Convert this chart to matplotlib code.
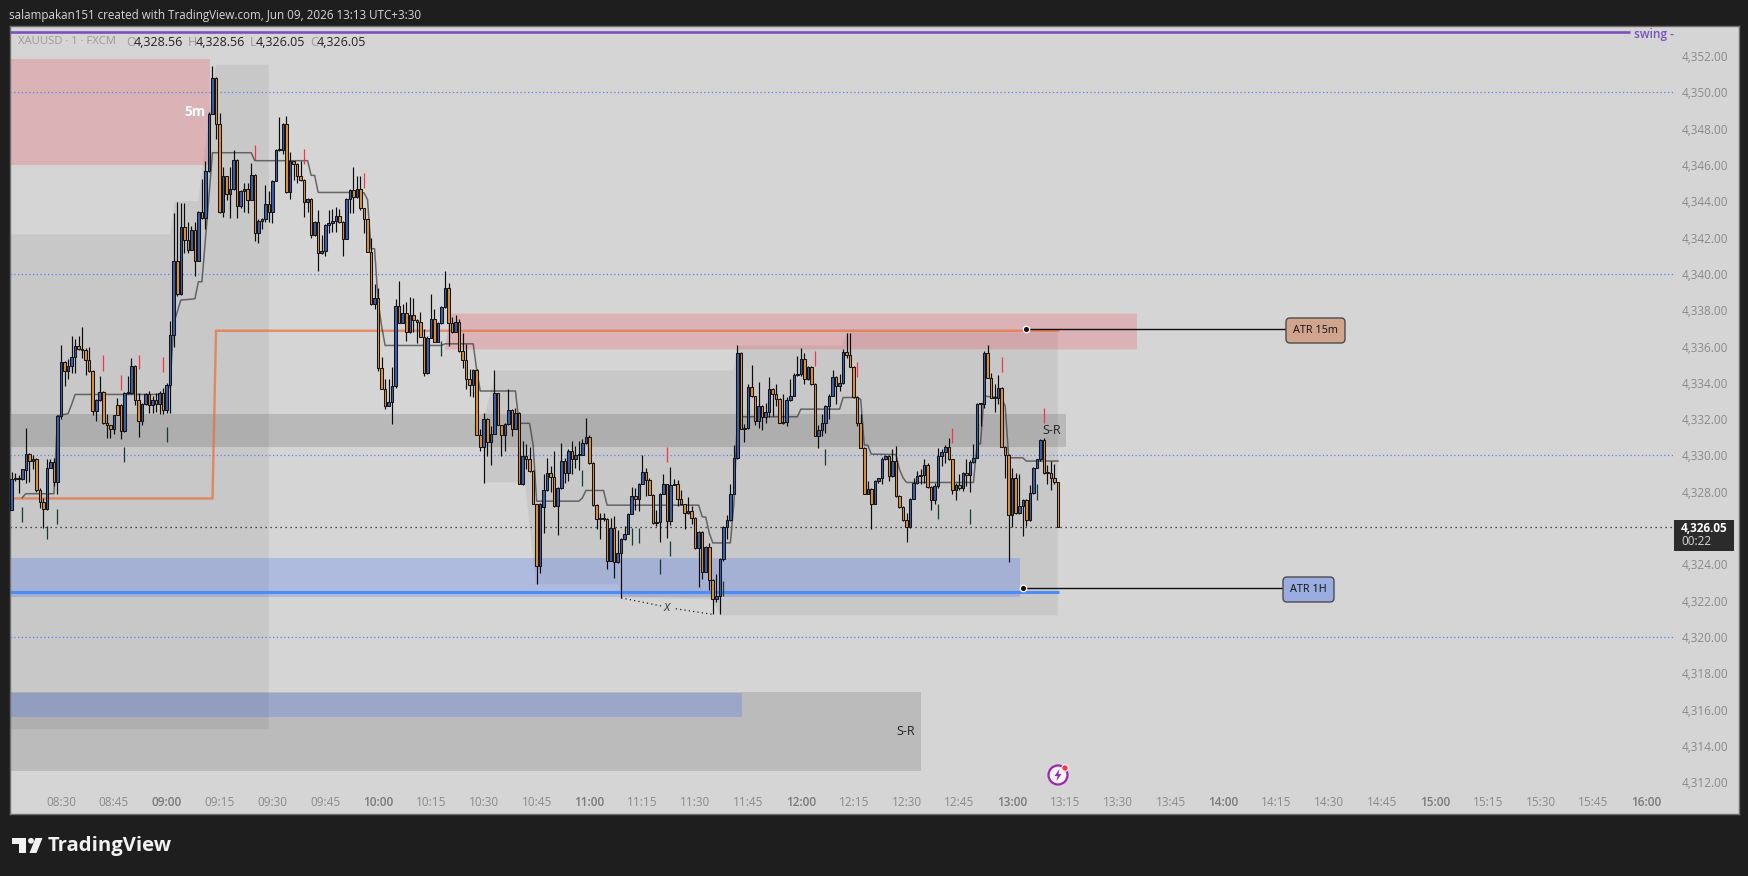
import numpy as np
import matplotlib
matplotlib.use("Agg")
import matplotlib.pyplot as plt
from matplotlib.patches import FancyBboxPatch, Rectangle, Circle, Polygon

plt.rcParams['font.family'] = ['Open Sans', 'DejaVu Sans']

# ---- data: minutes after 08:30, prices -------------------------------
opens = [
4327.00,4328.71,4328.70,4328.71,4329.19,4330.09,4329.69,4329.80,4328.10,4327.45,
4327.04,4329.32,4329.65,4328.53,4332.18,4335.16,4334.64,4334.92,4335.43,4336.04,
4335.87,4335.80,4335.27,4334.64,4332.44,4333.07,4333.50,4331.80,4331.67,4331.45,
4332.79,4332.79,4331.34,4333.45,4333.45,4334.94,4333.05,4331.89,4332.86,4333.40,
4332.77,4333.07,4332.86,4333.45,4332.53,4333.90,4336.61,4340.73,4338.87,4342.60,
4341.88,4341.33,4342.43,4340.73,4343.43,4343.10,4345.69,4348.83,4350.81,4348.28,
4343.41,4345.37,4344.42,4344.66,4346.30,4343.76,4344.58,4344.69,4344.09,4345.46,
4342.27,4342.93,4343.04,4343.87,4343.41,4345.13,4346.84,4346.84,4348.24,4344.51,
4346.20,4346.05,4345.41,4345.19,4343.98,4344.14,4342.14,4342.88,4341.17,4341.28,
4342.71,4342.82,4342.93,4343.17,4342.88,4341.94,4344.14,4344.64,4344.24,4344.69,
4343.61,4343.02,4341.22,4338.36,4338.69,4334.81,4333.68,4332.72,4332.94,4333.84,
4338.25,4337.31,4337.84,4336.82,4337.75,4337.46,4337.35,4336.52,4334.54,4336.49,
4337.53,4336.27,4337.31,4338.19,4339.24,4337.31,4336.82,4337.35,4335.75,4335.25,
4334.23,4333.88,4334.72,4331.12,4330.46,4332.02,4330.76,4331.20,4333.42,4331.67,
4331.14,4331.75,4332.52,4331.47,4332.35,4328.44,4329.98,4329.82,4329.14,4327.33,
4323.90,4327.17,4328.10,4329.04,4328.80,4327.20,4328.21,4329.68,4329.04,4330.25,
4329.78,4330.03,4330.03,4330.69,4331.02,4329.59,4327.26,4326.50,4326.50,4326.50,
4324.21,4326.01,4324.14,4324.63,4325.40,4325.68,4326.78,4327.79,4327.61,4328.43,
4329.10,4328.66,4327.83,4326.29,4326.34,4327.88,4328.43,4326.38,4328.38,4328.45,
4327.61,4327.31,4326.84,4326.95,4326.56,4324.91,4325.79,4323.59,4324.96,4323.13,
4322.10,4322.28,4324.27,4326.07,4326.45,4327.89,4329.87,4335.65,4331.47,4331.52,
4333.78,4333.27,4331.89,4332.73,4332.13,4332.39,4333.67,4333.40,4333.12,4331.80,
4331.85,4333.07,4333.29,4334.42,4334.46,4335.32,4334.19,4334.88,4333.95,4331.08,
4331.41,4331.80,4332.72,4333.29,4334.33,4333.82,4334.00,4335.71,4335.54,4334.88,
4333.23,4331.80,4330.42,4327.89,4328.16,4327.33,4328.60,4328.73,4329.78,4329.98,
4328.86,4329.72,4327.76,4327.15,4326.43,4326.05,4327.61,4328.49,4328.86,4328.90,
4329.50,4328.27,4327.54,4328.31,4329.96,4330.20,4330.47,4329.78,4328.12,4328.36,
4328.22,4329.04,4328.93,4329.65,4329.87,4332.84,4332.84,4335.62,4334.28,4333.17,
4333.17,4333.73,4330.48,4330.03,4326.73,4328.77,4326.84,4327.24,4327.55,4326.43,
4327.94,4329.32,4329.78,4330.84,4329.04,4329.04,4328.77,4328.56]
closes = [
4328.71,4328.70,4328.71,4329.23,4330.09,4329.69,4329.80,4328.09,4327.45,4327.04,
4329.32,4329.65,4328.53,4332.18,4335.16,4334.64,4334.94,4335.43,4336.04,4335.87,
4335.80,4335.27,4334.64,4332.44,4333.07,4333.50,4331.80,4331.67,4331.45,4332.22,
4332.22,4331.34,4333.45,4333.45,4334.94,4333.05,4331.89,4332.86,4333.40,4332.77,
4333.07,4332.86,4333.45,4332.53,4333.90,4336.61,4340.73,4338.87,4342.60,4341.88,
4341.33,4342.43,4340.73,4343.43,4343.10,4345.69,4348.83,4350.81,4348.28,4343.41,
4345.37,4344.42,4344.66,4346.30,4343.76,4344.58,4344.69,4344.09,4345.46,4342.27,
4342.93,4343.04,4343.87,4343.41,4345.13,4346.84,4346.84,4348.24,4344.51,4346.20,
4346.05,4345.41,4345.19,4343.98,4344.14,4342.14,4342.88,4341.17,4341.28,4342.71,
4342.82,4342.93,4343.17,4342.88,4341.94,4344.14,4344.64,4344.24,4344.69,4343.61,
4343.02,4341.22,4338.36,4338.69,4334.81,4333.68,4332.72,4332.94,4333.84,4338.25,
4337.31,4337.84,4336.82,4337.75,4337.46,4337.35,4336.52,4334.54,4336.49,4337.53,
4336.27,4337.31,4338.19,4339.24,4337.31,4336.82,4337.35,4335.75,4335.25,4334.23,
4333.88,4334.72,4331.12,4330.46,4332.02,4330.76,4331.20,4333.42,4331.67,4331.14,
4331.75,4332.52,4331.47,4332.35,4328.44,4329.98,4329.82,4329.14,4327.33,4323.90,
4327.33,4328.10,4329.04,4328.80,4327.20,4328.21,4329.68,4329.04,4330.25,4329.78,
4330.03,4330.03,4330.69,4331.02,4329.59,4327.26,4326.50,4326.50,4326.50,4324.21,
4326.01,4324.14,4324.63,4325.40,4325.68,4326.78,4327.79,4327.61,4328.43,4329.10,
4328.66,4327.83,4326.29,4326.34,4327.88,4328.43,4326.38,4328.38,4328.45,4327.61,
4327.31,4326.84,4326.95,4326.56,4324.91,4325.79,4323.59,4324.96,4323.13,4322.10,
4322.28,4324.27,4326.07,4326.45,4327.89,4329.87,4335.65,4331.47,4331.52,4333.78,
4333.27,4331.89,4332.73,4332.13,4332.39,4333.67,4333.40,4333.12,4331.80,4331.85,
4333.07,4333.29,4334.42,4334.46,4335.32,4334.19,4334.88,4333.95,4331.08,4331.41,
4331.80,4332.72,4333.29,4334.33,4333.82,4334.00,4335.71,4335.54,4334.88,4333.23,
4331.80,4330.42,4327.89,4328.16,4327.33,4328.60,4328.73,4329.78,4329.98,4328.86,
4329.72,4327.76,4327.15,4326.43,4326.05,4327.61,4328.49,4328.86,4328.90,4329.50,
4328.27,4327.54,4328.31,4329.96,4330.20,4330.47,4329.78,4328.12,4328.36,4328.22,
4329.04,4328.93,4329.65,4329.87,4332.84,4332.84,4335.62,4334.28,4333.17,4333.17,
4333.73,4330.48,4330.03,4326.73,4328.77,4326.84,4327.24,4327.55,4326.43,4327.94,
4329.32,4329.78,4330.84,4329.04,4329.04,4328.77,4328.53,4326.05]
highs = [
4329.08,4329.04,4328.90,4329.25,4331.50,4330.15,4330.00,4329.87,4328.20,4327.66,
4329.80,4329.78,4329.87,4332.20,4336.08,4335.20,4335.30,4336.60,4336.39,4336.60,
4337.05,4335.90,4336.00,4334.70,4333.10,4334.37,4333.55,4332.30,4331.70,4332.25,
4333.14,4332.85,4333.50,4334.37,4335.38,4335.00,4333.45,4332.90,4333.45,4333.54,
4333.27,4333.45,4333.55,4333.70,4333.97,4337.40,4343.37,4343.96,4343.92,4343.92,
4342.88,4342.64,4342.88,4343.45,4345.25,4346.22,4348.90,4351.45,4350.85,4348.88,
4345.90,4345.41,4345.90,4346.82,4346.35,4344.60,4345.00,4345.00,4346.13,4345.50,
4343.00,4343.10,4344.91,4344.56,4345.15,4346.88,4348.66,4348.30,4348.73,4346.73,
4346.25,4346.10,4346.22,4345.22,4344.20,4344.18,4342.90,4343.52,4342.14,4342.75,
4343.52,4343.56,4343.68,4343.56,4342.90,4344.18,4344.68,4345.90,4345.39,4345.39,
4343.65,4343.05,4342.00,4339.42,4339.24,4335.44,4334.19,4334.19,4334.89,4338.60,
4339.63,4338.32,4338.45,4338.74,4338.69,4337.50,4337.92,4336.94,4336.58,4338.91,
4338.08,4337.35,4338.22,4340.18,4339.52,4337.64,4337.74,4337.50,4336.72,4336.12,
4334.74,4334.76,4334.76,4331.44,4332.35,4332.05,4331.62,4334.69,4333.45,4331.70,
4331.78,4333.64,4332.55,4332.63,4332.40,4330.79,4330.61,4330.48,4329.20,4327.35,
4327.40,4329.00,4329.87,4329.41,4330.23,4328.25,4330.69,4329.87,4330.33,4330.79,
4330.51,4330.82,4330.88,4332.07,4331.15,4329.62,4327.30,4326.84,4326.84,4326.55,
4326.56,4326.65,4325.90,4325.44,4326.10,4326.82,4328.27,4328.21,4328.47,4330.05,
4329.32,4328.77,4327.87,4327.02,4327.92,4328.95,4328.45,4329.37,4328.71,4328.67,
4328.12,4327.35,4327.72,4327.20,4326.60,4325.83,4325.83,4325.00,4325.18,4323.17,
4323.48,4324.35,4326.10,4326.71,4328.40,4330.60,4336.06,4335.70,4331.74,4333.91,
4334.96,4333.30,4334.07,4332.80,4332.90,4334.31,4333.70,4333.91,4333.15,4333.36,
4333.20,4334.22,4334.55,4335.47,4335.93,4335.65,4334.92,4334.92,4334.00,4331.70,
4332.26,4332.76,4333.36,4334.70,4334.37,4334.46,4335.84,4336.72,4336.72,4334.92,
4333.27,4332.26,4330.45,4328.58,4328.20,4328.65,4328.78,4329.92,4330.00,4330.00,
4330.38,4330.51,4327.80,4327.20,4326.84,4327.65,4328.77,4329.13,4329.23,4329.78,
4329.60,4328.30,4328.49,4330.42,4330.33,4330.60,4330.97,4329.80,4328.49,4328.95,
4329.08,4329.78,4329.74,4330.64,4332.88,4332.90,4335.75,4336.11,4334.55,4333.91,
4334.42,4333.77,4330.50,4330.07,4329.32,4329.04,4328.99,4327.60,4327.60,4328.36,
4329.36,4329.82,4330.88,4330.95,4329.50,4329.70,4329.54,4328.56]
lows = [
4327.00,4328.58,4327.94,4328.65,4328.50,4328.53,4329.26,4328.00,4327.12,4326.00,
4327.00,4329.30,4328.30,4327.90,4332.00,4333.82,4334.20,4334.55,4334.55,4335.80,
4335.38,4334.45,4334.60,4332.20,4331.89,4333.00,4331.75,4330.97,4330.97,4331.20,
4332.20,4330.88,4331.30,4333.40,4333.40,4332.80,4331.03,4331.70,4332.80,4332.35,
4332.35,4332.40,4332.30,4332.26,4332.35,4332.35,4336.00,4338.78,4338.85,4341.17,
4341.17,4341.30,4339.88,4340.70,4343.00,4342.45,4345.60,4348.80,4347.42,4343.35,
4343.13,4344.10,4343.10,4344.60,4343.10,4343.65,4343.40,4343.37,4344.05,4341.80,
4341.72,4342.45,4342.88,4342.88,4342.82,4345.10,4346.80,4346.59,4344.45,4344.14,
4345.20,4344.99,4345.10,4343.13,4343.41,4342.00,4342.10,4340.16,4341.08,4340.98,
4342.27,4342.30,4342.30,4342.80,4340.98,4341.90,4343.37,4343.37,4344.20,4343.55,
4342.23,4341.20,4338.30,4338.05,4334.65,4333.65,4332.57,4332.70,4331.71,4333.73,
4337.28,4337.27,4336.30,4336.76,4336.82,4336.20,4336.50,4334.37,4334.50,4336.45,
4336.25,4336.25,4337.22,4338.15,4336.03,4336.76,4336.80,4335.70,4334.83,4333.64,
4333.27,4333.23,4331.10,4330.24,4328.50,4329.97,4329.50,4331.20,4331.65,4329.97,
4330.24,4331.70,4331.07,4331.45,4328.40,4328.35,4329.23,4329.10,4327.30,4322.89,
4323.50,4325.73,4328.05,4328.00,4327.15,4325.64,4328.15,4328.49,4328.58,4328.95,
4329.32,4329.17,4330.00,4330.65,4329.55,4327.20,4325.92,4325.37,4326.38,4323.75,
4324.18,4323.26,4324.10,4322.15,4325.35,4325.65,4326.75,4327.02,4326.93,4328.40,
4327.75,4327.80,4326.20,4326.10,4325.22,4327.85,4325.46,4326.14,4328.35,4327.20,
4327.25,4325.92,4326.80,4326.20,4324.85,4322.76,4323.20,4323.55,4322.61,4321.24,
4321.90,4321.24,4324.20,4325.37,4326.40,4327.85,4329.80,4331.45,4330.73,4331.45,
4333.20,4331.70,4331.52,4331.39,4331.80,4332.13,4332.16,4332.72,4331.76,4331.75,
4331.61,4333.00,4333.25,4334.40,4334.40,4333.91,4334.15,4333.90,4331.05,4330.40,
4331.06,4331.25,4332.00,4333.25,4332.81,4333.54,4333.95,4335.38,4334.85,4333.17,
4331.61,4330.40,4327.85,4327.85,4325.96,4327.30,4328.50,4328.45,4329.75,4328.58,
4328.80,4327.70,4327.10,4326.40,4325.22,4326.00,4327.58,4328.45,4328.40,4328.50,
4328.20,4326.97,4327.30,4328.20,4329.41,4329.60,4329.75,4327.85,4327.57,4328.12,
4328.03,4328.31,4327.98,4329.60,4329.85,4331.61,4332.60,4334.25,4333.15,4332.39,
4332.86,4330.45,4328.77,4324.12,4326.07,4326.80,4326.80,4325.55,4326.10,4326.40,
4327.90,4329.30,4329.70,4329.00,4328.40,4328.12,4328.40,4326.05]
minutes = np.arange(-14, 284)

# grey step indicator
step_m = [-11,-10,-2,-1,2,3,4,30,31,32,34,38,39,40,43,54,55,70,71,72,73,85,86,87,88,89,90,91,92,108,109,117,118,119,129,130,133,134,135,147,148,149,154,155,181,182,183,184,185,190,191,192,209,210,221,222,226,227,228,229,230,237,238,239,240,259,260,261,262,267,268,269,273,274,283]
step_p = [4327.67,4327.89,4327.89,4332.18,4332.30,4332.80,4333.36,4333.36,4334.00,4337.27,4338.56,4338.63,4339.57,4339.57,4346.68,4346.68,4346.24,4346.24,4345.43,4345.43,4344.49,4344.49,4344.47,4344.10,4341.39,4341.39,4338.50,4337.13,4336.06,4336.06,4336.15,4336.15,4334.70,4333.55,4333.55,4331.77,4331.77,4330.60,4327.48,4327.48,4327.66,4328.07,4328.07,4327.26,4327.26,4326.62,4326.60,4325.73,4325.18,4325.18,4327.39,4332.13,4332.13,4332.55,4332.55,4333.19,4333.19,4333.08,4330.57,4330.57,4330.07,4330.05,4329.23,4328.77,4328.51,4328.51,4330.64,4330.64,4333.27,4333.17,4332.72,4329.87,4329.87,4329.69,4329.69]

# ATR lines
atr15_m = [43, 44, 283]
atr15_p = [4327.63, 4336.87, 4336.87]
atr15_head_p = 4327.63
atr1h_p = 4322.50

# signal ticks: minute, top, bottom
red_m   = [12,17,22,29,55,69,86,172,214,226,253,267,279]
red_top = [4335.51,4334.44,4335.56,4335.43,4347.12,4346.90,4345.58,4330.47,4335.75,4335.16,4331.52,4335.42,4332.62]
red_bot = [4334.64,4333.58,4334.74,4334.59,4346.27,4346.07,4344.75,4329.63,4334.92,4334.31,4330.66,4334.59,4331.80]
grn_m   = [-11,-1,-4,18,30,108,148,162,164,170,173,188,217,249,258,277]
grn_top = [4327.17,4327.06,4326.10,4330.48,4331.58,4336.30,4329.17,4326.01,4326.01,4324.32,4325.29,4323.07,4330.33,4327.33,4327.06,4328.40]
grn_bot = [4326.32,4326.21,4325.37,4329.63,4330.73,4335.47,4328.30,4325.07,4325.18,4323.46,4324.45,4322.28,4329.47,4326.47,4326.21,4327.54]

# zones (minutes, price)
XL, XR = -14.48, 476.3
YB, YT = 4310.22, 4353.64
col_m = [XL, 31, 32.3, 38.9, 44, 59, 59, XL]
col_p = [4342.18,4342.18,4344.01,4344.01,4351.54,4351.54,4314.92,4314.92]
area_m = [120.35,123.5,190.75,192.2,221.7,223.1,282.9,282.9,187.1,184.8,159.2,158.1,134.8,131.7,120.35]
area_p = [4332.26,4334.68,4334.68,4336.06,4336.06,4336.78,4336.78,4321.18,4321.18,4322.07,4322.18,4322.89,4322.89,4328.51,4328.51]

hlevels = [4350, 4340, 4330, 4320]
last_price = 4326.05
yticks = list(range(4312, 4354, 2))
xtick_labels = ['08:30','08:45','09:00','09:15','09:30','09:45','10:00','10:15','10:30','10:45','11:00','11:15','11:30','11:45','12:00','12:15','12:30','12:45','13:00','13:15','13:30','13:45','14:00','14:15','14:30','14:45','15:00','15:15','15:30','15:45','16:00']
xticks = [15*i for i in range(len(xtick_labels))]

# ---- figure ----------------------------------------------------------
W, H = 1749, 876
DARK = '#1e1e1e'
fig = plt.figure(figsize=(W/100, H/100), dpi=100, facecolor=DARK)
L, R, T, B = 10, 1739, 26.4, 814.4
ax = fig.add_axes([L/W, 1-B/H, (R-L)/W, (B-T)/H], facecolor='#d5d5d5')
ax.set_xlim(XL, XR)
ax.set_ylim(YB, YT)
for s in ax.spines.values():
    s.set_color('#6e6e6e'); s.set_linewidth(1.0)

# zones
ax.fill(col_m, col_p, color='black', alpha=0.06, lw=0, zorder=1)
ax.fill(area_m, area_p, color='black', alpha=0.06, lw=0, zorder=1)
ax.fill([XL,285.3,285.3,XL],[4332.26,4332.26,4330.46,4330.46], color='black', alpha=0.13, lw=0, zorder=1)
ax.fill([XL,244.1,244.1,XL],[4316.94,4316.94,4312.61,4312.61], color='black', alpha=0.12, lw=0, zorder=1)
ax.fill([XL,193.3,193.3,XL],[4316.89,4316.89,4315.58,4315.58], color='#2962ff', alpha=0.22, lw=0, zorder=1.2)
ax.fill([XL,272.2,272.2,XL],[4324.33,4324.33,4322.19,4322.19], color='#2962ff', alpha=0.22, lw=0, zorder=1.2)
ax.fill([XL,42.3,42.3,XL],[4351.87,4351.87,4345.98,4345.98], color='#f23645', alpha=0.22, lw=0, zorder=1.2)
ax.fill([109,110.5,305.4,305.4],[4335.84,4337.82,4337.82,4335.84], color='#f23645', alpha=0.22, lw=0, zorder=1.2)

# levels
for lv in hlevels:
    ax.plot([XL, 457.6], [lv, lv], color='#5f7ff0', lw=0.9, ls=(0, (1, 2)), zorder=1.5)
ax.plot([XL, 457.6], [last_price, last_price], color='#1a1a1a', lw=0.9, ls=(0, (1, 3)), zorder=1.5)
ax.plot([XL, 445.4], [4353.32, 4353.32], color='#7a52bd', lw=1.9, zorder=3, solid_capstyle='butt')
ax.text(446.6, 4353.2, 'swing -', color='#7a52bd', fontsize=8.6, fontweight='semibold', va='center', ha='left', zorder=3)

# ATR lines
ax.plot([XL]+atr15_m, [atr15_head_p]+atr15_p, color='#e8703a', alpha=0.72, lw=1.7, zorder=2, solid_joinstyle='miter')
ax.plot([XL, 283.2], [atr1h_p, atr1h_p], color='#4d8bf5', lw=2.2, zorder=2, solid_capstyle='butt')
ax.plot(step_m, step_p, color='#3c3c3c', alpha=0.72, lw=1.1, zorder=4)

# candles
o, h, l, c = map(np.array, (opens, highs, lows, closes))
up = c >= o
ax.vlines(minutes, l, h, color='#0a0a0a', lw=0.85, zorder=5)
ax.bar(minutes, np.maximum(np.abs(c-o), 0.03), bottom=np.minimum(o, c), width=0.72,
       color=np.where(up, '#3a5fae', '#e0902f'), edgecolor='#141414', linewidth=0.75, zorder=6)

# signal ticks
ax.vlines(red_m, red_bot, red_top, color='#f23645', lw=0.9, zorder=7)
ax.vlines(grn_m, grn_bot, grn_top, color='#0d3d34', lw=0.9, zorder=7)

# x swing annotation
ax.plot([159, 170.5], [4322.15, 4321.70], color='#222222', lw=0.9, ls=(0, (1, 2.5)), zorder=3)
ax.plot([174.5, 185], [4321.55, 4321.24], color='#222222', lw=0.9, ls=(0, (1, 2.5)), zorder=3)
ax.text(172.0, 4321.62, 'x', color='#444444', fontsize=10, style='italic', ha='center', va='center', zorder=3)

# connectors
ax.plot([274, 347.7], [4336.94, 4336.94], color='#111111', lw=1.0, zorder=6)
ax.plot([273.1, 346.9], [4322.67, 4322.67], color='#111111', lw=1.0, zorder=6)
ax.plot([274, 273.1], [4336.94, 4322.67], ls='none', marker='o', ms=4.6, mfc='#111111', mec='white', mew=0.9, zorder=8)

# zone labels
ax.text(38.0, 4348.92, '5m', color='white', fontsize=9.8, fontweight='bold', ha='center', va='center', zorder=8)
ax.text(281.2, 4331.38, 'S-R', color='#222222', fontsize=9, ha='center', va='center', zorder=8)
ax.text(239.7, 4314.8, 'S-R', color='#222222', fontsize=9, ha='center', va='center', zorder=8)

# ticks
ax.yaxis.tick_right()
ax.set_yticks(yticks)
ax.set_yticklabels([f'{v:,.2f}' for v in yticks], fontsize=8.5, color='#8a8a8a', ha='right')
ax.tick_params(axis='y', length=0, pad=-8, direction='in')
ax.set_xticks(xticks)
ax.set_xticklabels(xtick_labels, fontsize=8.5, color='#8a8a8a')
ax.tick_params(axis='x', length=0, pad=-13.3, direction='in')
for t, lab in zip(ax.get_xticklabels(), xtick_labels):
    if lab.endswith(':00'):
        t.set_fontweight('semibold'); t.set_color('#7a7a7a')

# ---- chrome overlay in pixel space ------------------------------------
ov = fig.add_axes([0, 0, 1, 1], facecolor='none')
ov.set_xlim(0, W); ov.set_ylim(H, 0); ov.axis('off')
ov.text(9.5, 15.5, 'salampakan151 created with TradingView.com, Jun 09, 2026 13:13 UTC+3:30',
        color='#d6d6d6', fontsize=8.4, va='center', ha='left')
ov.text(18, 42, 'XAUUSD · 1 · FXCM', color='#9a9a9a', fontsize=8.1, va='center', ha='left')
legend = [(126, 'O', '#9a9a9a'), (134, '4,328.56', '#222222'),
          (188, 'H', '#9a9a9a'), (196, '4,328.56', '#222222'), (250, 'L', '#9a9a9a'), (256, '4,326.05', '#222222'),
          (310, 'C', '#9a9a9a'), (317, '4,326.05', '#222222')]
for x, s, col in legend:
    ov.text(x, 42, s, color=col, fontsize=9.0, va='center', ha='left')

ov.add_patch(FancyBboxPatch((1286, 318), 59, 25, boxstyle='round,pad=0,rounding_size=4', fc='#d1a58d', ec='#4c4c4c', lw=1))
ov.text(1315.5, 330.5, 'ATR 15m', fontsize=7.8, color='#111111', ha='center', va='center')
ov.add_patch(FancyBboxPatch((1283, 577), 51, 25, boxstyle='round,pad=0,rounding_size=4', fc='#9bace0', ec='#4c4c4c', lw=1))
ov.text(1308.5, 589.5, 'ATR 1H', fontsize=7.8, color='#111111', ha='center', va='center')

ov.add_patch(Rectangle((1674, 520), 60, 31, fc='#2b2b2b', ec='none'))
ov.text(1728, 528, '4,326.05', fontsize=8.5, fontweight='bold', color='white', ha='right', va='center')
ov.text(1681.5, 541.5, '00:22', fontsize=8.5, color='#d8d8d8', ha='left', va='center')

# alert icon
ov.add_patch(Circle((1058, 775), 9.5, fc='#f3f3f3', ec='#9c27b0', lw=1.6))
ov.add_patch(Polygon([[1059.5,769],[1054.5,776],[1057.6,776],[1056.5,781],[1061.5,774],[1058.4,774]], fc='#9c27b0', ec='none'))
ov.add_patch(Circle((1065, 768), 3.2, fc='#f23645', ec='white', lw=0.7))

# TradingView mark and word
ov.add_patch(Rectangle((12, 838), 14.5, 5.5, fc='#f2f2f2', ec='none'))
ov.add_patch(Rectangle((19.5, 838), 7, 15, fc='#f2f2f2', ec='none'))
ov.add_patch(Circle((31, 840.8), 2.9, fc='#f2f2f2', ec='none'))
ov.add_patch(Polygon([[35.5,838],[42.5,838],[36.5,853],[29.5,853]], fc='#f2f2f2', ec='none'))
ov.text(48, 846.5, 'TradingView', fontsize=14.6, fontweight='bold', color='#f2f2f2', ha='left', va='center')

fig.savefig('out.png', dpi=100, facecolor=DARK)
